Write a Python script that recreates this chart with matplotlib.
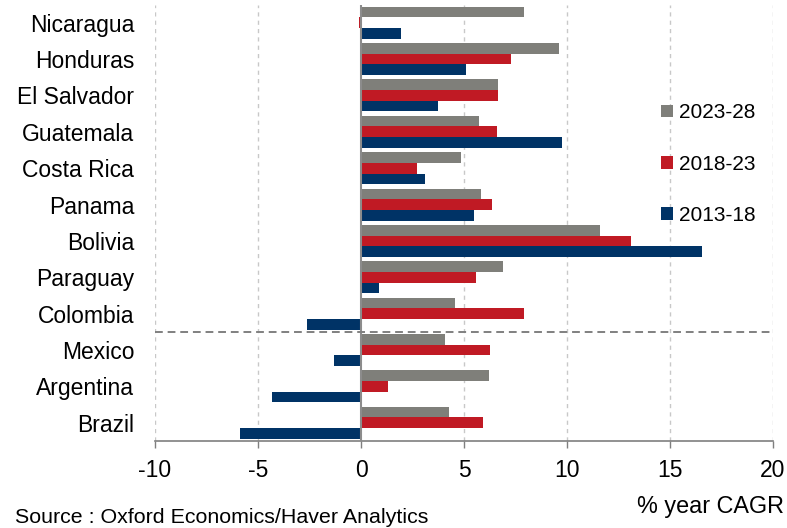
import matplotlib
matplotlib.use("Agg")
import matplotlib.pyplot as plt
import numpy as np
from matplotlib.patches import Patch

plt.rcParams["font.family"] = ["Liberation Sans", "DejaVu Sans"]
plt.rcParams["axes.unicode_minus"] = False

countries = ["Nicaragua", "Honduras", "El Salvador", "Guatemala", "Costa Rica",
             "Panama", "Bolivia", "Paraguay", "Colombia", "Mexico",
             "Argentina", "Brazil"]
cagr_2023_28 = [7.93, 9.63, 6.67, 5.73, 4.84, 5.83, 11.61, 6.89, 4.57, 4.09, 6.20, 4.29]
cagr_2018_23 = [-0.08, 7.28, 6.67, 6.59, 2.70, 6.34, 13.09, 5.59, 7.93, 6.28, 1.32, 5.94]
cagr_2013_18 = [1.93, 5.12, 3.76, 9.76, 3.09, 5.49, 16.56, 0.85, -2.62, -1.32, -4.31, -5.87]
periods = ["2023-28", "2018-23", "2013-18"]
colors = ["#7f7f7a", "#c01a24", "#003366"]

fig = plt.figure(figsize=(7.87, 5.28), dpi=100)
ax = fig.add_axes([155 / 787, 1 - 441 / 528, (773 - 155) / 787, (441 - 4.5) / 528])

y = np.arange(len(countries))
h = 0.293
for off, vals, c in zip([-h, 0, h], [cagr_2023_28, cagr_2018_23, cagr_2013_18], colors):
    ax.barh(y + off, vals, height=h, color=c, edgecolor="none", zorder=3)

ax.set_xlim(-10, 20)
ax.set_ylim(11.5, -0.5)
ax.set_xticks(range(-10, 21, 5))
ax.set_yticks(y)
ax.set_yticklabels(countries, fontsize=16.5)
ax.tick_params(axis="y", length=0, pad=15)
ax.tick_params(axis="x", length=5, width=1, color="#7f7f7f", direction="out",
               labelsize=16.5, pad=8)

for s in ["left", "right", "top"]:
    ax.spines[s].set_visible(False)
ax.spines["bottom"].set_color("#7f7f7f")
ax.spines["bottom"].set_linewidth(1.2)

# dashed grid, solid zero line, separator between Colombia and Mexico
for xv in [-10, -5, 5, 10, 15, 20]:
    ax.axvline(xv, color="#c8c8c8", linestyle=(0, (3, 3)), linewidth=1, zorder=1)
ax.axvline(0, color="#8c8c8c", linewidth=1.5, zorder=4)
ax.axhline(8.5, color="#808080", linestyle=(0, (4, 2.5)), linewidth=1.4, zorder=4)

handles = [Patch(facecolor=c, edgecolor="none") for c in colors]
fig.legend(handles, periods, loc="upper left", bbox_to_anchor=(651 / 787, 1 - 93 / 528),
           frameon=False, fontsize=15, handlelength=0.55, handleheight=0.55,
           handletextpad=0.3, labelspacing=1.55, borderpad=0)

fig.text(784 / 787, 1 - 513 / 528, "% year CAGR", ha="right", va="baseline", fontsize=16.8)
fig.text(15 / 787, 1 - 523 / 528, "Source : Oxford Economics/Haver Analytics",
         ha="left", va="baseline", fontsize=15.4)

fig.savefig("out.png", dpi=100)
